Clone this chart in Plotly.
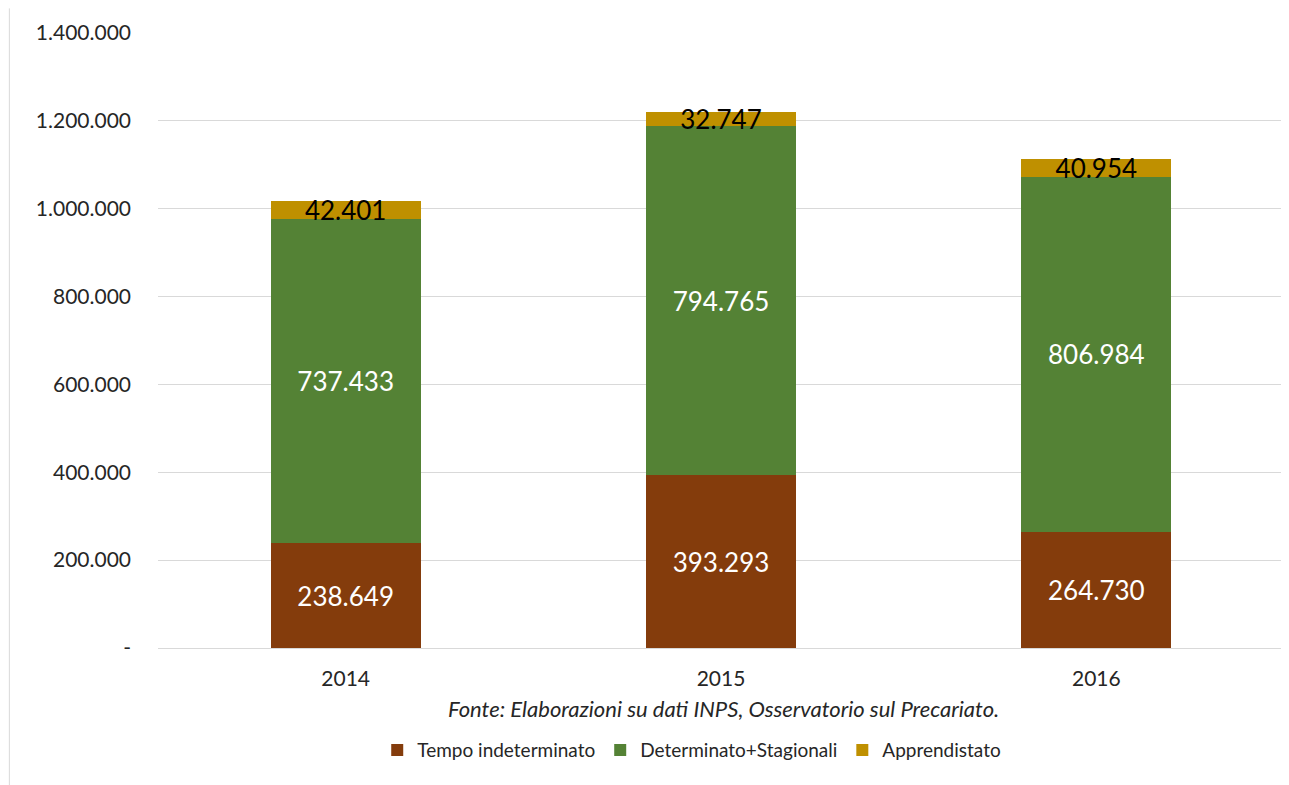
import plotly.graph_objects as go

years = ["2014", "2015", "2016"]
tempo_indeterminato = [238649, 393293, 264730]
determinato_stagionali = [737433, 794765, 806984]
apprendistato = [42401, 32747, 40954]

y_ticks = [0, 200000, 400000, 600000, 800000, 1000000, 1200000, 1400000]
y_ticktext = ["-", "200.000", "400.000", "600.000", "800.000",
              "1.000.000", "1.200.000", "1.400.000"]

FONT = "Lato, 'Open Sans', sans-serif"

fig = go.Figure()

series = [
    ("Tempo indeterminato", tempo_indeterminato, "#843c0c", "white"),
    ("Determinato+Stagionali", determinato_stagionali, "#548235", "white"),
    ("Apprendistato", apprendistato, "#bf9000", "black"),
]
for name, vals, col, tcol in series:
    fig.add_trace(go.Bar(
        x=years, y=vals, name=name,
        marker=dict(color=col, line=dict(width=0)),
        texttemplate="%{y:,}", textposition="inside",
        insidetextanchor="middle", constraintext="none",
        textfont=dict(family=FONT, size=26, color=tcol),
    ))

# page body adds an 8px offset, so margins are shifted by 8px
fig.update_layout(
    barmode="stack", bargap=0.6,
    width=1289, height=785,
    separators=",.",
    plot_bgcolor="white", paper_bgcolor="white",
    font=dict(family=FONT, size=20, color="#262626"),
    margin=dict(l=150, r=13, t=25, b=145, autoexpand=False),
    yaxis=dict(range=[0, 1400000], tickvals=y_ticks, ticktext=y_ticktext,
               showgrid=True, gridcolor="#d9d9d9", gridwidth=1,
               zeroline=False, ticks="", ticklabelstandoff=26,
               tickfont=dict(size=21)),
    xaxis=dict(showline=True, linecolor="#d9d9d9", ticklabelstandoff=12,
               tickfont=dict(size=21)),
    legend=dict(orientation="h", x=0.474, xanchor="center", y=-0.166,
                yanchor="middle", font=dict(size=19), traceorder="normal"),
    showlegend=True,
)

fig.add_annotation(
    text="<i>Fonte: Elaborazioni su dati INPS, Osservatorio sul Precariato.</i>",
    xref="paper", yref="paper", x=0.502, y=-0.0976, xanchor="center",
    yanchor="middle", showarrow=False, font=dict(size=22, color="#262626"),
)

fig.add_shape(type="line", xref="paper", yref="paper",
              x0=-0.132, x1=-0.132, y0=1.04, y1=-0.25,
              line=dict(color="#d9d9d9", width=1))

fig.write_html("out.html")
